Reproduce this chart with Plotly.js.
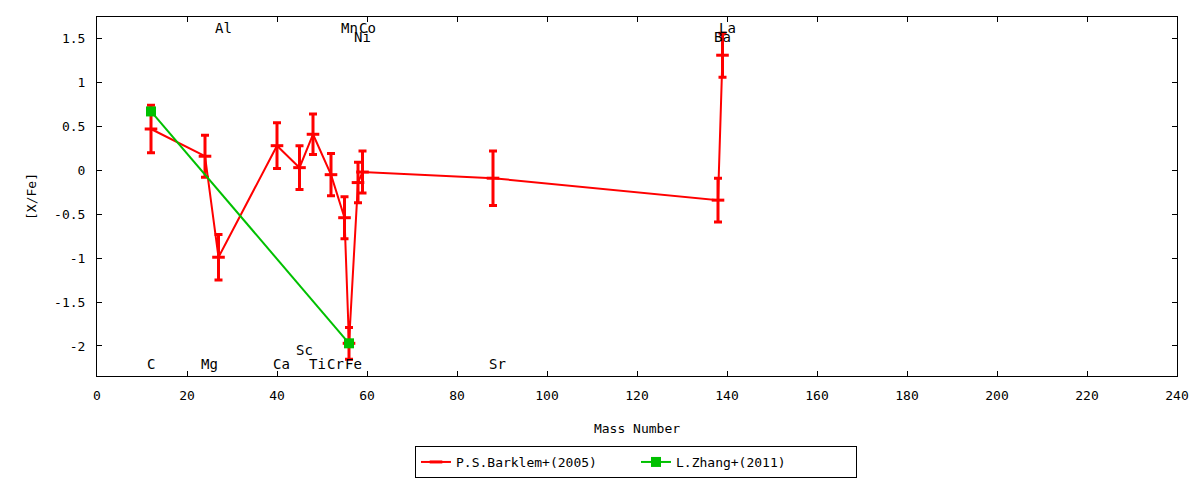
<!DOCTYPE html>
<html>
<head>
<meta charset="utf-8">
<script src="https://cdn.plot.ly/plotly-3.0.1.min.js"></script>
<style>html,body{margin:0;padding:0;background:#fff;}#chart{width:1200px;height:480px;}</style>
</head>
<body>
<div id="chart"></div>
<script>
// Barklem+ (2005)
const barklemMass = [12, 24, 27, 40, 45, 48, 52, 55, 56, 58, 59, 88, 138, 139];
const barklemValue = [0.47, 0.16, -0.99, 0.28, 0.03, 0.41, -0.05, -0.54, -1.97, -0.14, -0.02, -0.09, -0.34, 1.31];
const barklemError = [0.27, 0.24, 0.26, 0.26, 0.25, 0.23, 0.24, 0.24, 0.18, 0.23, 0.24, 0.31, 0.25, 0.25];

// Zhang+ (2011)
const zhangMass = [12, 56];
const zhangValue = [0.67, -1.97];
const zhangError = [0.03, 0.03];

// element labels
const labelText = ['C', 'Mg', 'Al', 'Ca', 'Sc', 'Ti', 'Cr', 'Fe', 'Mn', 'Co', 'Ni', 'Sr', 'Ba', 'La'];
const labelMass = [12, 24, 27, 40, 45, 48, 52, 56, 55, 59, 58, 88, 138, 139];
const labelY = [-2.2, -2.2, 1.62, -2.2, -2.05, -2.2, -2.2, -2.2, 1.62, 1.62, 1.52, -2.2, 1.52, 1.62];

const xTicks = [0, 20, 40, 60, 80, 100, 120, 140, 160, 180, 200, 220, 240];
const yTicks = [-2, -1.5, -1, -0.5, 0, 0.5, 1, 1.5];
const yTickText = ['-2', '-1.5', '-1', '-0.5', '0', '0.5', '1', '1.5'];

const RED = '#ff0000';
const GREEN = '#00c000';
const FONT = 'DejaVu Sans Mono, monospace';

const traces = [
  {
    x: barklemMass, y: barklemValue, name: 'P.S.Barklem+(2005)',
    type: 'scatter', mode: 'lines+markers',
    line: {color: RED, width: 2},
    marker: {symbol: 'line-ew', size: 9, color: RED, line: {color: RED, width: 3}},
    error_y: {type: 'data', array: barklemError, visible: true, color: RED, thickness: 3, width: 4}
  },
  {
    x: zhangMass, y: zhangValue, name: 'L.Zhang+(2011)',
    type: 'scatter', mode: 'lines+markers',
    line: {color: GREEN, width: 2},
    marker: {symbol: 'square', size: 10, color: GREEN},
    error_y: {type: 'data', array: zhangError, visible: true, color: GREEN, thickness: 3, width: 4}
  }
];

const annotations = labelText.map((t, i) => ({
  x: labelMass[i], y: labelY[i], xref: 'x', yref: 'y',
  text: t, showarrow: false, xanchor: 'left', yanchor: 'middle', xshift: -6,
  font: {family: FONT, size: 14, color: '#000'}
}));

const layout = {
  width: 1200, height: 480,
  margin: {l: 97, r: 23, t: 17, b: 104, autoexpand: false},
  paper_bgcolor: '#fff', plot_bgcolor: '#fff',
  font: {family: FONT, size: 13, color: '#000'},
  showlegend: true,
  legend: {
    orientation: 'h', xref: 'container', yref: 'container',
    x: 0.530, xanchor: 'center', y: 0.0375, yanchor: 'middle',
    bordercolor: '#000', borderwidth: 1, bgcolor: '#fff',
    font: {family: FONT, size: 13, color: '#000'},
    entrywidth: 175, entrywidthmode: 'pixels'
  },
  xaxis: {
    range: [0, 240], tickvals: xTicks, ticktext: xTicks.map(String),
    ticks: 'inside', ticklen: 5, tickcolor: '#000', mirror: 'ticks',
    showline: true, linecolor: '#000', linewidth: 1, showgrid: false, zeroline: false,
    automargin: false, ticklabelstandoff: 7,
    title: {text: 'Mass Number', font: {family: FONT, size: 13}, standoff: 22},
    tickfont: {family: FONT, size: 13}
  },
  yaxis: {
    range: [-2.342, 1.745], tickvals: yTicks, ticktext: yTickText,
    ticks: 'inside', ticklen: 5, tickcolor: '#000', mirror: 'ticks',
    showline: true, linecolor: '#000', linewidth: 1, showgrid: false, zeroline: false,
    automargin: false, ticklabelstandoff: 8,
    title: {text: '[X/Fe]', font: {family: FONT, size: 13}, standoff: 14},
    tickfont: {family: FONT, size: 13}
  },
  annotations: annotations
};

Plotly.newPlot('chart', traces, layout, {displayModeBar: false, staticPlot: true});
</script>
</body>
</html>
